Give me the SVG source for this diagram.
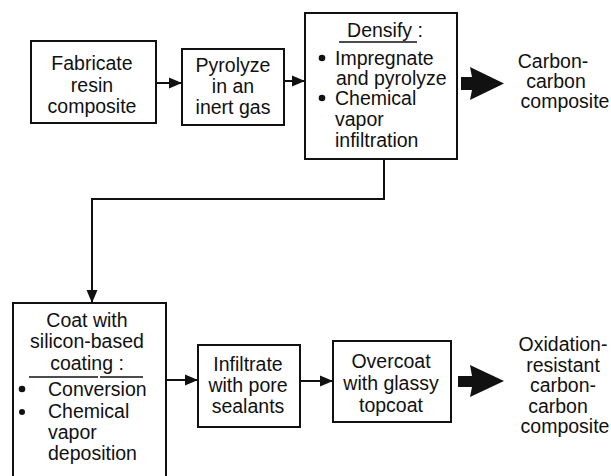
<svg xmlns="http://www.w3.org/2000/svg" width="611" height="476" viewBox="0 0 611 476">
<defs>
<style>
text{font-family:"Liberation Sans",Arial,Helvetica,sans-serif;font-size:19.5px;fill:#111}
.box{fill:#fff;stroke:#111;stroke-width:2}
.c{text-anchor:middle}
.ln{fill:none;stroke:#111;stroke-width:2}
.big{fill:#111;stroke:none}
.ul{stroke:#111;stroke-width:1.6}
</style>
<marker id="ah" markerUnits="userSpaceOnUse" markerWidth="14" markerHeight="12" refX="13" refY="6" orient="auto">
<path d="M0,0.5 L13,6 L0,11.5 z" fill="#111"/>
</marker>
</defs>
<rect width="611" height="476" fill="#fff"/>

<g id="connectors">
<line class="ln" x1="156" y1="83" x2="182" y2="83" marker-end="url(#ah)"/>
<line class="ln" x1="284" y1="81" x2="305" y2="81" marker-end="url(#ah)"/>
<polyline class="ln" points="384,159 384,199 92,199 92,303" marker-end="url(#ah)"/>
<line class="ln" x1="166" y1="380" x2="198" y2="380" marker-end="url(#ah)"/>
<line class="ln" x1="300" y1="381" x2="333" y2="381" marker-end="url(#ah)"/>
<path class="big" d="M461,77 L472,77 L470,67 L504,83.5 L470,100 L472,90 L461,90 z"/>
<path class="big" d="M458,376 L472,376 L470,365 L504,381 L470,397 L472,387 L458,387 z"/>
</g>

<g id="fabricate">
<rect class="box" x="31" y="41" width="125" height="82"/>
<text class="c" x="92" y="70">Fabricate</text>
<text class="c" x="92" y="92">resin</text>
<text class="c" x="92" y="113">composite</text>
</g>

<g id="pyrolyze">
<rect class="box" x="182" y="49" width="102" height="76"/>
<text class="c" x="233" y="72">Pyrolyze</text>
<text class="c" x="233" y="93">in an</text>
<text class="c" x="233" y="114">inert gas</text>
</g>

<g id="densify">
<rect class="box" x="305" y="13" width="152" height="146"/>
<text class="c" x="385" y="37">Densify :</text>
<line class="ul" x1="339" y1="42" x2="417" y2="42"/>
<circle cx="322" cy="58" r="3.3" fill="#111"/>
<text x="335" y="65">Impregnate</text>
<text x="336" y="85">and pyrolyze</text>
<circle cx="322" cy="98" r="3.3" fill="#111"/>
<text x="335" y="105">Chemical</text>
<text x="335" y="126">vapor</text>
<text x="335" y="147">infiltration</text>
</g>

<g id="carbon-carbon">
<text class="c" x="553" y="68">Carbon-</text>
<text class="c" x="556" y="88">carbon</text>
<text class="c" x="565" y="108">composite</text>
</g>

<g id="coat">
<rect class="box" x="13" y="303" width="153" height="178"/>
<text class="c" x="87" y="327">Coat with</text>
<text class="c" x="87" y="348">silicon-based</text>
<text class="c" x="87" y="370">coating :</text>
<line class="ul" x1="29" y1="377" x2="98" y2="377"/>
<line class="ul" x1="100" y1="377" x2="143" y2="377"/>
<circle cx="22" cy="389" r="3.3" fill="#111"/>
<text x="48" y="396">Conversion</text>
<circle cx="22" cy="412" r="3" fill="#111"/>
<text x="48" y="418">Chemical</text>
<text x="48" y="439">vapor</text>
<text x="48" y="460">deposition</text>
</g>

<g id="infiltrate">
<rect class="box" x="198" y="345" width="102" height="82"/>
<text class="c" x="248" y="371">Infiltrate</text>
<text class="c" x="248" y="392">with pore</text>
<text class="c" x="248" y="413">sealants</text>
</g>

<g id="overcoat">
<rect class="box" x="333" y="341" width="118" height="81"/>
<text class="c" x="391" y="368">Overcoat</text>
<text class="c" x="391" y="390">with glassy</text>
<text class="c" x="391" y="412">topcoat</text>
</g>

<g id="oxidation-resistant">
<text class="c" x="563" y="351">Oxidation-</text>
<text class="c" x="563" y="371.5">resistant</text>
<text class="c" x="563" y="392">carbon-</text>
<text class="c" x="558" y="412.5">carbon</text>
<text class="c" x="565" y="433">composite</text>
</g>
</svg>
